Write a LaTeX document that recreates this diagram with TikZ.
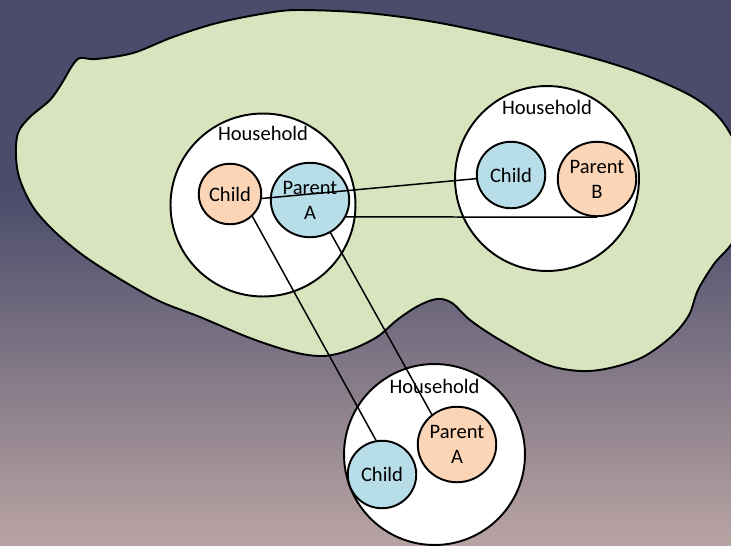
\documentclass[tikz,border=0pt]{standalone}
\usepackage{fontspec}
\setmainfont{Carlito}
\usepackage{tikz}
\usetikzlibrary{positioning,shapes.geometric}
\definecolor{slate}{HTML}{4B4C6B}
\definecolor{dusk}{HTML}{B9A4A3}
\definecolor{sage}{HTML}{D7E4BD}
\definecolor{peach}{HTML}{FBD5B5}
\definecolor{aqua}{HTML}{B7DEE8}
\tikzstyle{hh}=[%
      ellipse, draw=black, line width=1.1pt, fill=white,
      inner sep=0pt
]
\tikzstyle{person}=[%
      ellipse, draw=black, line width=1.1pt,
      inner sep=0pt, align=center
]
\tikzstyle{hhlabel}=[%
      inner sep=0pt
]
\tikzstyle{tie}=[%
      draw=black, line width=0.85pt
]

\begin{document}
\begin{tikzpicture}[x=0.02cm, y=-0.02cm,
    font=\fontsize{11.7}{14.2}\selectfont
  ]
    \useasboundingbox (0,0) rectangle (731,545);
    \clip (0,0) rectangle (731,545);
    % background
    \fill[slate] (0,0) rectangle (731,196);
    \shade[top color=slate, bottom color=dusk] (0,195) rectangle (731,545);
    % community
    \draw[fill=sage, line width=1.1pt] plot[smooth cycle, tension=0.55] coordinates {
      (80,58) (96,59) (133,53) (173,37) (217,23) (267,13) (300,10) (367,13)
      (440,23) (533,43) (600,60) (650,77) (698,100) (727,128) (748,180)
      (736,236) (714,264) (698,290) (689,315) (672,336) (643,357) (610,368)
      (580,371) (545,364) (500,340) (470,320) (452,303) (437,299) (418,306)
      (397,320) (377,337) (350,350) (323,356) (293,352) (250,338) (200,317)
      (157,300) (110,273) (80,253) (53,230) (33,207) (20,180) (16,157)
      (18,133) (30,117) (50,100) (62,83) (72,66)};

    \node[hh, minimum width=3.70cm, minimum height=3.66cm] (hh1) at (263,205)   {};
    \node[hh, minimum width=3.68cm, minimum height=3.70cm] (hh2) at (547,178.5) {};
    \node[hh, minimum width=3.62cm, minimum height=3.62cm] (hh3) at (434.5,454.5) {};

    \node[hhlabel] (lab1) [below=0.27cm of hh1.north] {Household};
    \node[hhlabel] (lab2) [below=0.29cm of hh2.north] {Household};
    \node[hhlabel] (lab3) [below=0.31cm of hh3.north] {Household};

    \node[person, fill=peach, minimum width=1.25cm, minimum height=1.21cm] (c1)  at (230,194)   {Child};
    \node[person, fill=aqua,  minimum width=1.57cm, minimum height=1.49cm] (pA1) at (310,200)   {Parent\\A};
    \node[person, fill=aqua,  minimum width=1.37cm, minimum height=1.33cm] (c2)  at (511,175)   {Child};
    \node[person, fill=peach, minimum width=1.57cm, minimum height=1.49cm] (pB)  at (597,179)   {Parent\\B};
    \node[person, fill=aqua,  minimum width=1.37cm, minimum height=1.35cm] (c3)  at (382,474.5) {Child};
    \node[person, fill=peach, minimum width=1.57cm, minimum height=1.51cm] (pA3) at (457,444.5) {Parent\\A};

    \draw[tie] (c1.-8) -- (c2.186)
          (pA1.-25) -- (pB.south)
          (c1.-45) -- (c3.100)
          (pA1.-58) -- (pA3.130);
\end{tikzpicture}
\end{document}
